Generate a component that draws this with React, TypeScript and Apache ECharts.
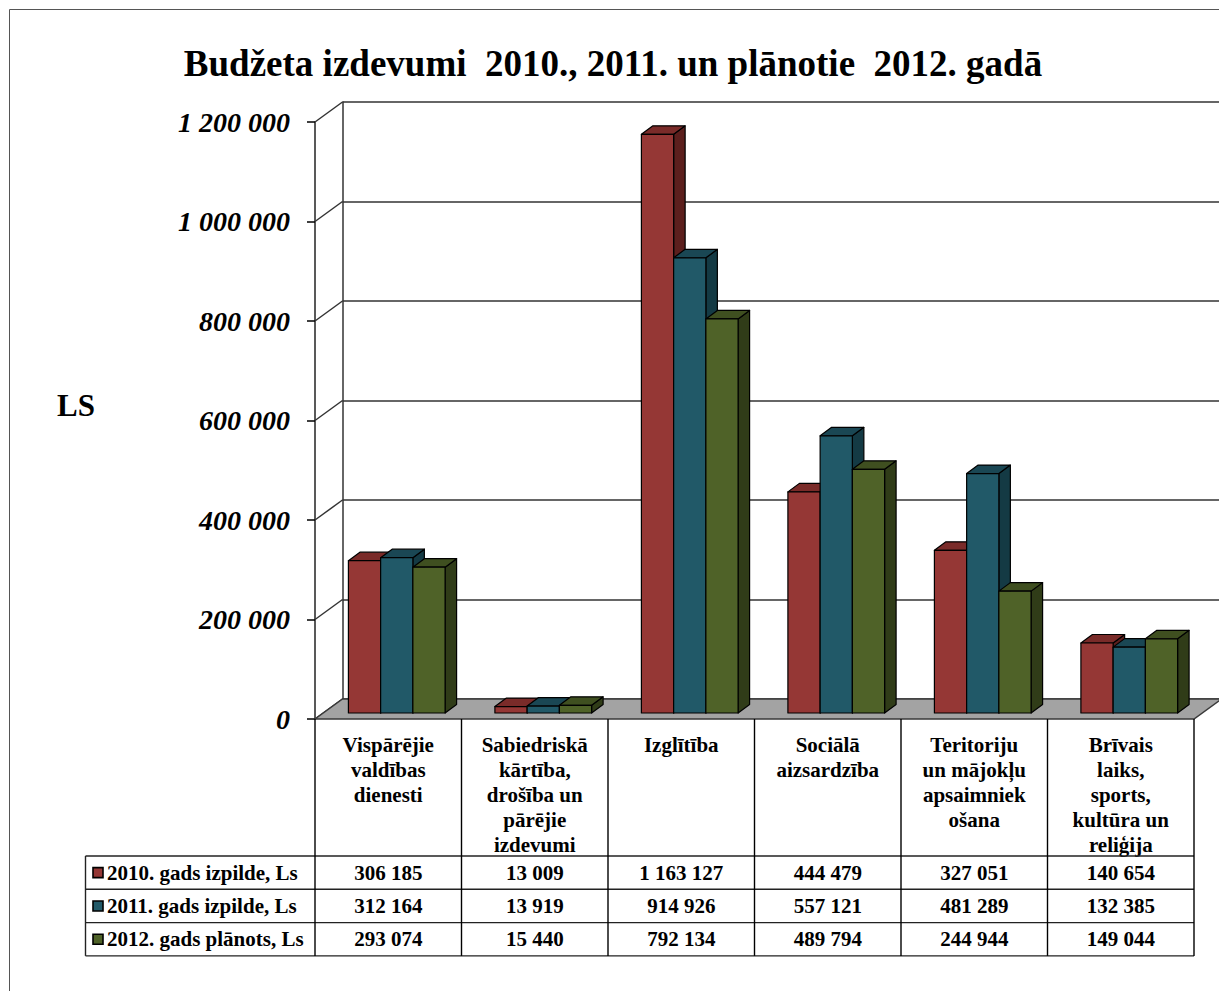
import React, { useEffect, useRef } from "react";
import * as echarts from "echarts";

const title = "Budžeta izdevumi  2010., 2011. un plānotie  2012. gadā";
const yUnit = "LS";
const categories = [
  "Vispārējie\nvaldības\ndienesti",
  "Sabiedriskā\nkārtība,\ndrošība un\npārējie\nizdevumi",
  "Izglītība",
  "Sociālā\naizsardzība",
  "Teritoriju\nun mājokļu\napsaimniek\nošana",
  "Brīvais\nlaiks,\nsports,\nkultūra un\nreliģija",
];
const seriesNames = ["2010. gads izpilde, Ls", "2011. gads izpilde, Ls", "2012. gads plānots, Ls"];
const values2010 = [306185, 13009, 1163127, 444479, 327051, 140654];
const values2011 = [312164, 13919, 914926, 557121, 481289, 132385];
const values2012 = [293074, 15440, 792134, 489794, 244944, 149044];
const yTicks = [0, 200000, 400000, 600000, 800000, 1000000, 1200000];

const FONT = "'Liberation Serif', 'Times New Roman', serif";
const W = 1219;
const H = 991;
const GL = 315;
const GT = 122;
const GW = 879;
const GH = 597;
const DX = 27.5;
const DY = -20;
const BAR_OX = 8.5;
const BAR_OY = -6;
const BAR_DX = 11.5;
const BAR_DY = -8.5;
const BAR_FRAC = 0.22;

const palette = [
  { front: "#953735", top: "#7a2b29", side: "#5c1f1d" },
  { front: "#215968", top: "#1a4754", side: "#143a44" },
  { front: "#4f6228", top: "#3f4f20", side: "#303c18" },
];

function fmt(v: number): string {
  return String(v).replace(/\B(?=(\d{3})+(?!\d))/g, " ");
}

const ROW_TOP = 856;
const ROW_H = 33.3;

export default function App() {
  const ref = useRef<HTMLDivElement>(null);
  useEffect(() => {
    if (!ref.current) return;
    const chart = echarts.init(ref.current, null, { renderer: "svg", width: W, height: H });
    const allValues = [values2010, values2011, values2012];
    const band = GW / categories.length;

    const barSeries = allValues.map((vals, k) => ({
      type: "custom",
      name: seriesNames[k],
      xAxisIndex: 0,
      yAxisIndex: 0,
      clip: false,
      z: 5 + k,
      data: vals.map((v, i) => [i, v]),
      encode: { x: 0, y: 1 },
      renderItem: (params: any, api: any) => {
        const i = api.value(0);
        const v = api.value(1);
        const base = api.coord([i, 0]);
        const topP = api.coord([i, v]);
        const bandW = api.size([1, 0])[0];
        const bw = bandW * BAR_FRAC;
        const x0 = base[0] - 1.5 * bw + BAR_OX + k * bw;
        const yb = base[1] + BAR_OY;
        const yt = topP[1] + BAR_OY;
        const c = palette[k];
        const st = { stroke: "#000", lineWidth: 1.2, lineJoin: "round" };
        return {
          type: "group",
          children: [
            {
              type: "polygon",
              shape: { points: [[x0 + bw, yt], [x0 + bw + BAR_DX, yt + BAR_DY], [x0 + bw + BAR_DX, yb + BAR_DY], [x0 + bw, yb]] },
              style: { fill: c.side, ...st },
            },
            {
              type: "polygon",
              shape: { points: [[x0, yt], [x0 + bw, yt], [x0 + bw + BAR_DX, yt + BAR_DY], [x0 + BAR_DX, yt + BAR_DY]] },
              style: { fill: c.top, ...st },
            },
            {
              type: "rect",
              shape: { x: x0, y: yt, width: bw, height: yb - yt },
              style: { fill: c.front, ...st },
            },
          ],
        };
      },
    }));

    const floorSeries = {
      type: "custom",
      xAxisIndex: 0,
      yAxisIndex: 0,
      clip: false,
      z: 3,
      data: [[0, 0]],
      encode: { x: 0, y: 1 },
      renderItem: (params: any, api: any) => {
        const p = api.coord([0, 0]);
        const bandW = api.size([1, 0])[0];
        const xL = p[0] - bandW / 2;
        const xR = xL + bandW * categories.length;
        const y = p[1];
        return {
          type: "polygon",
          shape: { points: [[xL, y], [xR, y], [xR + DX, y + DY], [xL + DX, y + DY]] },
          style: { fill: "#a3a3a3", stroke: "#3a3a3a", lineWidth: 1.5 },
        };
      },
    };

    const diagSeries = {
      type: "custom",
      xAxisIndex: 0,
      yAxisIndex: 0,
      clip: false,
      z: 2,
      data: yTicks.map((v) => [0, v]),
      encode: { x: 0, y: 1 },
      renderItem: (params: any, api: any) => {
        const p = api.coord([0, api.value(1)]);
        const bandW = api.size([1, 0])[0];
        const xL = p[0] - bandW / 2;
        return {
          type: "line",
          shape: { x1: xL, y1: p[1], x2: xL + DX, y2: p[1] + DY },
          style: { stroke: "#333", lineWidth: 1.5 },
        };
      },
    };

    const graphics: any[] = [];
    graphics.push({
      type: "rect",
      shape: { x: 9.5, y: 9.5, width: 1400, height: 1200 },
      style: { fill: "none", stroke: "#555", lineWidth: 1 },
      z: 0,
    });
    graphics.push({
      type: "text",
      x: 613,
      y: 63,
      style: { text: title, font: `bold 37px ${FONT}`, textAlign: "center", textVerticalAlign: "middle", fill: "#000" },
    });
    graphics.push({
      type: "text",
      x: 76,
      y: 405,
      style: { text: yUnit, font: `bold 31px ${FONT}`, textAlign: "center", textVerticalAlign: "middle", fill: "#000" },
    });
    const tableBottom = ROW_TOP + ROW_H * 3;
    const lineSt = { stroke: "#222", lineWidth: 1.4 };
    for (let r = 0; r <= 3; r++) {
      const y = ROW_TOP + r * ROW_H;
      graphics.push({ type: "line", shape: { x1: 85.5, y1: y, x2: GL + GW, y2: y }, style: lineSt, z: 10 });
    }
    graphics.push({ type: "line", shape: { x1: 85.5, y1: ROW_TOP, x2: 85.5, y2: tableBottom }, style: lineSt, z: 10 });
    for (let c = 0; c <= categories.length; c++) {
      const x = GL + c * band;
      graphics.push({ type: "line", shape: { x1: x, y1: GT + GH, x2: x, y2: tableBottom }, style: { stroke: "#000", lineWidth: 1.4 }, z: 10 });
    }
    allValues.forEach((vals, k) => {
      const yc = ROW_TOP + k * ROW_H + ROW_H / 2;
      graphics.push({
        type: "rect",
        shape: { x: 93, y: yc - 5, width: 10, height: 10 },
        style: { fill: palette[k].front, stroke: "#000", lineWidth: 1.6 },
        z: 10,
      });
      graphics.push({
        type: "text",
        x: 107,
        y: yc,
        style: { text: seriesNames[k], font: `bold 21px ${FONT}`, textAlign: "left", textVerticalAlign: "middle", fill: "#000" },
        z: 10,
      });
      vals.forEach((v, i) => {
        graphics.push({
          type: "text",
          x: GL + (i + 0.5) * band,
          y: yc,
          style: { text: fmt(v), font: `bold 21px ${FONT}`, textAlign: "center", textVerticalAlign: "middle", fill: "#000" },
          z: 10,
        });
      });
    });

    chart.setOption({
      animation: false,
      backgroundColor: "#fff",
      grid: [
        { left: GL, top: GT, width: GW, height: GH, containLabel: false },
        { left: GL + DX, top: GT + DY, right: -80, height: GH, containLabel: false },
      ],
      xAxis: [
        {
          type: "category",
          gridIndex: 0,
          data: categories,
          axisLine: { show: false },
          axisTick: { show: false },
          axisLabel: {
            interval: 0,
            margin: 13,
            fontFamily: FONT,
            fontWeight: "bold",
            fontSize: 21,
            lineHeight: 25,
            color: "#000",
            verticalAlign: "top",
          },
          splitLine: { show: false },
        },
        { type: "value", gridIndex: 1, show: false, min: 0, max: 1 },
      ],
      yAxis: [
        {
          type: "value",
          gridIndex: 0,
          min: 0,
          max: 1200000,
          interval: 200000,
          axisLine: { show: true, lineStyle: { color: "#222", width: 1.5 } },
          axisTick: { show: true, length: 8, lineStyle: { color: "#000", width: 1.5 } },
          axisLabel: {
            margin: 25,
            fontFamily: FONT,
            fontWeight: "bold",
            fontStyle: "italic",
            fontSize: 28,
            color: "#000",
            formatter: (v: number) => fmt(v),
          },
          splitLine: { show: false },
        },
        {
          type: "value",
          gridIndex: 1,
          min: 0,
          max: 1200000,
          interval: 200000,
          axisLine: { show: true, lineStyle: { color: "#333", width: 1.5 } },
          axisTick: { show: false },
          axisLabel: { show: false },
          splitLine: { show: true, lineStyle: { color: "#333", width: 1.5 } },
        },
      ],
      graphic: graphics,
      series: [diagSeries, floorSeries, ...barSeries],
    });
    return () => chart.dispose();
  }, []);
  return <div ref={ref} style={{ position: "absolute", left: 0, top: 0, width: W, height: H, background: "#fff" }} />;
}
